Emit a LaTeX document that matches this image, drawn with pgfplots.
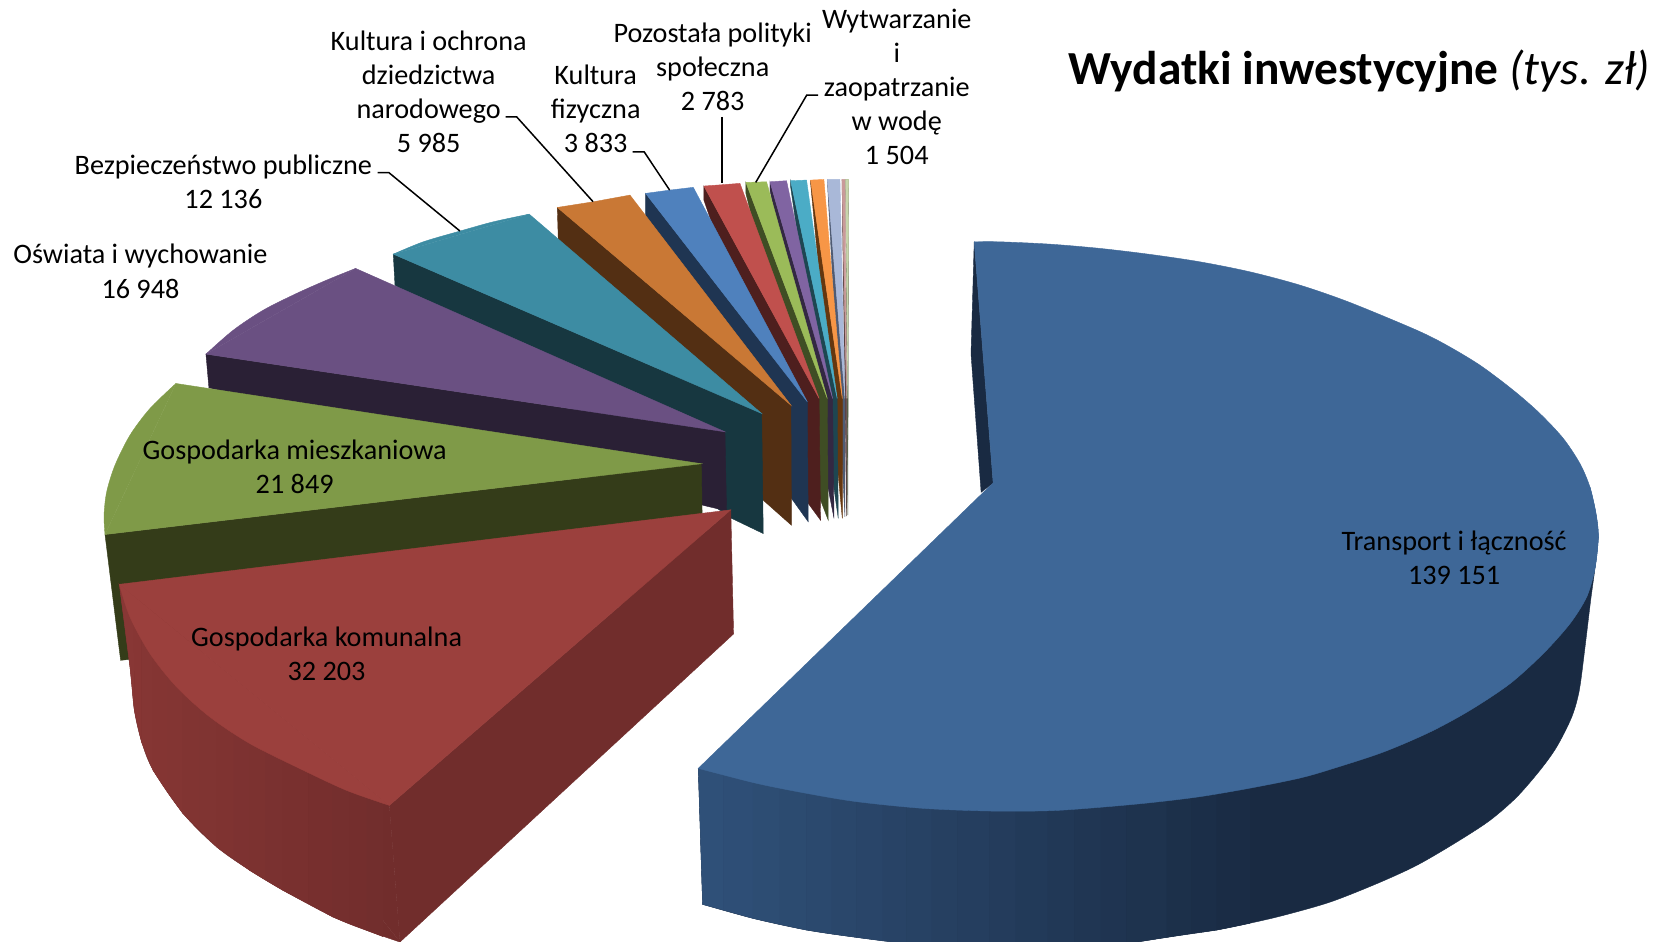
\documentclass[border=0pt]{standalone}
\usepackage{fontspec}
\setmainfont{Carlito}
\usepackage{pgfplots}
\pgfplotsset{compat=1.18}
\newcommand\poly[2]{\addplot[fill=#1,draw=#1,line width=0.4pt] coordinates {#2} -- cycle;}
\newcommand\spoly[2]{\addplot[smooth,fill=#1,draw=#1,line width=0.4pt] coordinates {#2};}
\newcommand\lead[1]{\addplot[black,line width=1.5pt,sharp plot] coordinates {#1};}
\newcommand\lbl[3]{\node[anchor=base,inner sep=0pt,font=\fontsize{28.2}{32}\selectfont] at (axis cs:#1,#2) {#3};}
\definecolor{bT}{RGB}{62,103,151}
\definecolor{bD}{RGB}{25,42,66}
\definecolor{bL}{RGB}{47,80,120}
\definecolor{rT}{RGB}{155,64,61}
\definecolor{rD}{RGB}{113,45,44}
\definecolor{rL}{RGB}{136,55,53}
\definecolor{gT}{RGB}{127,154,72}
\definecolor{gD}{RGB}{52,60,25}
\definecolor{pT}{RGB}{106,80,130}
\definecolor{pD}{RGB}{42,32,53}
\definecolor{tT}{RGB}{61,140,163}
\definecolor{tD}{RGB}{23,55,64}
\definecolor{oT}{RGB}{201,120,53}
\definecolor{oD}{RGB}{83,47,19}
\definecolor{b2T}{RGB}{79,129,189}
\definecolor{b2D}{RGB}{31,53,82}
\definecolor{r2T}{RGB}{192,80,77}
\definecolor{r2D}{RGB}{78,31,30}
\definecolor{g2T}{RGB}{155,187,89}
\definecolor{g2D}{RGB}{63,77,36}
\definecolor{p2T}{RGB}{128,100,162}
\definecolor{p2D}{RGB}{51,40,66}
\definecolor{t2T}{RGB}{75,172,198}
\definecolor{t2D}{RGB}{30,70,81}
\definecolor{o2T}{RGB}{247,150,70}
\definecolor{o2D}{RGB}{101,55,15}
\definecolor{l2T}{RGB}{169,184,216}
\definecolor{l2D}{RGB}{79,91,115}
\definecolor{kT}{RGB}{201,154,153}
\definecolor{kD}{RGB}{90,65,65}
\definecolor{mT}{RGB}{200,213,172}
\definecolor{mD}{RGB}{85,95,70}
\begin{document}
\begin{tikzpicture}
\begin{axis}[anchor=south west,at={(0,0)},width=1668pt,height=943pt,scale only axis,xmin=0,xmax=1568,ymin=0,ymax=886,y dir=reverse,hide axis,clip=true]
% small slices, far right first
\poly{mD}{(794.9,168.6)(797,484)(797.7,168.6)}
\poly{mT}{(794.9,168.6)(797.7,168.6)(797,374.4)}
\poly{kD}{(791.5,168.6)(795.8,485)(795.8,374.4)}
\poly{kT}{(791.5,168.6)(794.3,168.6)(795.8,374.4)}
\poly{l2D}{(777.7,168.6)(794.3,485.6)(794.3,374.4)}
\poly{l2T}{(777.7,168.6)(789.6,168.6)(794.3,374.4)}
\poly{o2D}{(762,169.2)(762,172.3)(791.8,487)(791.8,374.4)}
\poly{o2T}{(762,169.2)(774.5,168.6)(791.8,374.4)}
\poly{t2D}{(743.2,169.8)(743.2,175.5)(788,487)(787,374.4)}
\poly{t2T}{(743.2,169.8)(758.2,169.2)(787,374.4)}
\poly{p2D}{(723.8,170.8)(723.8,178.6)(784,487)(782.7,374.4)}
\poly{p2T}{(723.8,170.8)(739.4,169.8)(782.7,374.4)}
\poly{g2D}{(701.2,171.4)(701.2,181.7)(771.4,470)(778.6,488.8)(777.7,374.4)}
\poly{g2T}{(701.2,171.4)(720.6,170.8)(777.7,374.4)}
\poly{r2D}{(661.7,174.8)(661.7,188)(759.8,473)(771.4,488.8)(770,374.4)}
\poly{r2T}{(661.7,174.8)(678.3,173.6)(695.6,172.3)(770,374.4)}
\poly{b2D}{(606.9,181.7)(607,205)(744.1,468.4)(759.8,490.3)(758.9,377.5)}
\poly{b2T}{(606.9,181.7)(629.8,178.6)(651.7,176)(758.9,377.5)}
\poly{oD}{(523.9,194.9)(524.8,225)(717.5,470)(744,493.5)(743.5,380.7)}
\poly{oT}{(523.9,194.9)(557.7,189.6)(592.2,183.3)(743.5,380.7)}
\poly{tD}{(369.7,238.8)(371.3,267.9)(687.7,487)(717.5,501.3)(716,388.5)}
\spoly{tT}{(369.7,238.8)(397.9,227.2)(432.4,217.1)(463.7,208.4)(497.5,201.2)}
\poly{tT}{(369.7,238.8)(497.5,201.2)(716,388.5)}
\poly{pD}{(193.6,332.7)(196.4,364.4)(683,480)(681.5,405.7)}
\spoly{pT}{(193.6,332.7)(219.3,310.2)(247.5,291.4)(278.8,275.7)(307,263.2)(334.3,252.2)}
\poly{pT}{(193.6,332.7)(334.3,252.2)(681.5,405.7)}
\poly{gD}{(98.7,502.2)(113.4,620.4)(661,560)(659.4,435.7)}
\spoly{gT}{(165.4,360.3)(141,383.8)(122.2,408.9)(108.1,437.1)(100.3,462.1)(97.8,484.1)(98.7,502.2)}
\poly{gT}{(165.4,360.3)(98.7,502.2)(659.4,435.7)}
% red slice
\poly{rD}{(366,756.7)(376,885.1)(689.6,595.6)(687,479)}
\spoly{rD}{(112.2,549)(122.2,626.7)(126.3,667.4)(133.2,697.1)(144.1,723.8)(172.3,764.5)(203.7,795.8)(235,817.8)(266.3,836.6)(313.3,861.6)(344.6,874.2)(376,885.1)}
\poly{rD}{(112.2,549)(376,885.1)(366,756.7)}
\poly{rL}{(112.2,549)(126,556)(126.3,667.4)(122.2,626.7)}
\poly{rL!94!rD}{(126,556)(133,572)(133,697)(126.3,667.4)}
\poly{rL!88!rD}{(133,572)(144,599)(144,724)(133,697)}
\poly{rL!82!rD}{(144,599)(158,620)(158,745)(144,724)}
\poly{rL!77!rD}{(158,620)(172,639.5)(172,764.5)(158,745)}
\poly{rL!71!rD}{(172,639.5)(188,655)(188,780)(172,764.5)}
\poly{rL!65!rD}{(188,655)(204,671)(204,796)(188,780)}
\poly{rL!59!rD}{(204,671)(220,682)(220,807)(204,796)}
\poly{rL!53!rD}{(220,682)(235,693)(235,818)(220,807)}
\poly{rL!47!rD}{(235,693)(250,702)(250,827)(235,818)}
\poly{rL!41!rD}{(250,702)(266,711.6)(266,836.6)(250,827)}
\poly{rL!33!rD}{(266,711.6)(290,724)(290,849)(266,836.6)}
\poly{rL!24!rD}{(290,724)(313,733.6)(313,861.6)(290,849)}
\poly{rL!18!rD}{(313,733.6)(329,740)(329,868)(313,861.6)}
\poly{rL!12!rD}{(329,740)(345,746)(345,874)(329,868)}
\poly{rL!6!rD}{(345,746)(360,752)(360,880)(345,874)}
\spoly{rT}{(112.2,549)(122.2,579.7)(141,614.1)(166.1,645.5)(197.4,673.7)(235,698.7)(282,722.2)(325.8,742.6)(366,756.7)}
\poly{rT}{(687,479)(112.2,549)(366,756.7)}
% blue slice
\poly{bD}{(915.8,227.2)(912.8,332.5)(922.3,462.5)(933.6,453.8)}
\spoly{bD}{(1502.5,504.5)(1499.3,534.3)(1495.3,564)(1490,607.9)(1484.6,648.6)(1477.5,673.7)(1463.3,701.9)(1447.6,723.8)(1425.7,749)(1400.6,770.8)(1369.3,791.2)(1331.7,813.1)(1294.1,830.3)(1250.2,847.6)(1206.3,860.1)(1175,867.4)(1143.6,873.8)(1096.6,880.7)(1059,886.4)(1010,890.5)(955,892)(900,890.5)(852.2,886.4)(805.3,880.7)(758.3,873.8)(708.1,862.9)(660.5,849.7)}
\poly{bD}{(656.4,721.9)(1502.5,504.5)(660.5,849.7)}
\poly{bL}{(656.4,721.9)(680,722)(680,855)(660.5,849.7)}
\poly{bL!96!bD}{(680,722)(708,727.9)(708,862.9)(680,855)}
\poly{bL!91!bD}{(708,727.9)(733,733.5)(733,868.5)(708,862.9)}
\poly{bL!86!bD}{(733,733.5)(758,738.8)(758,873.8)(733,868.5)}
\poly{bL!81!bD}{(758,738.8)(782,742.5)(782,877.5)(758,873.8)}
\poly{bL!76!bD}{(782,742.5)(805,745.7)(805,880.7)(782,877.5)}
\poly{bL!72!bD}{(805,745.7)(830,749)(830,884)(805,880.7)}
\poly{bL!67!bD}{(830,749)(852,751.4)(852,886.4)(830,884)}
\poly{bL!63!bD}{(852,751.4)(876,753.5)(876,888.5)(852,886.4)}
\poly{bL!58!bD}{(876,753.5)(900,755.5)(900,890.5)(876,888.5)}
\poly{bL!53!bD}{(900,755.5)(930,756.5)(930,891.5)(900,890.5)}
\poly{bL!48!bD}{(930,756.5)(955,757)(955,892)(930,891.5)}
\poly{bL!43!bD}{(955,757)(985,756.5)(985,891.5)(955,892)}
\poly{bL!37!bD}{(985,756.5)(1010,755.5)(1010,890.5)(985,891.5)}
\poly{bL!32!bD}{(1010,755.5)(1035,754)(1035,889)(1010,890.5)}
\poly{bL!27!bD}{(1035,754)(1059,751.4)(1059,886.4)(1035,889)}
\poly{bL!23!bD}{(1059,751.4)(1097,745.7)(1097,880.7)(1059,886.4)}
\poly{bL!15!bD}{(1097,745.7)(1120,742)(1120,877)(1097,880.7)}
\poly{bL!11!bD}{(1120,742)(1144,738.8)(1144,873.8)(1120,877)}
\poly{bL!6!bD}{(1144,738.8)(1175,732.4)(1175,867.4)(1144,873.8)}
\spoly{bT}{(915.8,227.2)(940,227.2)(987,229.4)(1034,233.4)(1081,239)(1128,246)(1175,255.4)(1222,267.9)(1269,284.2)(1331.7,310.2)(1359.9,324.3)(1391.2,343.1)(1422.5,366.6)(1447.6,388.5)(1469.6,412)(1485.2,435.5)(1494.6,457.5)(1500.3,482.5)(1502.5,504.5)(1499.3,534.3)(1491.5,560.9)}
\spoly{bT}{(1494.6,457.5)(1500.3,482.5)(1502.5,504.5)(1499.3,534.3)(1491.5,560.9)(1475.8,586)(1450.7,614.1)(1419.5,642.3)(1381.8,667.4)(1344.2,687.8)(1300.4,706.6)(1253.4,722)(1222,731)(1175,740.5)(1128,748.5)(1081,754.2)(1034,758.5)(987,761.7)(930.6,762)(867.9,759.5)(805.3,753.2)(758.3,745.4)(711.3,736)(656.4,721.9)}
\poly{bT}{(915.8,227.2)(1494.6,457.5)(1491.5,560.9)(656.4,721.9)(923.5,463.4)(933.6,453.8)}
% leader lines
\lead{(355,162.3)(365.7,162.3)(432.4,217.1)}
\lead{(475.4,109.7)(485.6,109.7)(557.5,189.5)}
\lead{(594.7,142.6)(605.5,142.6)(629.5,178.6)}
\lead{(678.6,109.7)(678.6,172.3)}
\lead{(769,89.3)(758.4,89.3)(710.4,171.4)}
% labels
\lbl{1367}{517}{Transport i łączność}
\lbl{1367}{549}{139 151}
\lbl{307}{607}{Gospodarka komunalna}
\lbl{307}{639}{32 203}
\lbl{277}{432}{Gospodarka mieszkaniowa}
\lbl{277}{464}{21 849}
\lbl{132}{248}{Oświata i wychowanie}
\lbl{132}{280}{16 948}
\lbl{210}{164}{Bezpieczeństwo publiczne}
\lbl{210}{196}{12 136}
\lbl{403}{47}{Kultura i ochrona}
\lbl{403}{79}{dziedzictwa}
\lbl{403}{111}{narodowego}
\lbl{403}{143}{5 985}
\lbl{560}{79}{Kultura}
\lbl{560}{111}{fizyczna}
\lbl{560}{143}{3 833}
\lbl{670}{40}{Pozostała polityki}
\lbl{670}{72}{społeczna}
\lbl{670}{104}{2 783}
\lbl{843}{27}{Wytwarzanie}
\lbl{843}{59}{i}
\lbl{843}{91}{zaopatrzanie}
\lbl{843}{123}{w wodę}
\lbl{843}{155}{1 504}
\node[anchor=base east,inner sep=0pt,font=\fontsize{47.4}{52}\selectfont] at (axis cs:1551.5,79) {\textbf{Wydatki inwestycyjne} \textit{(tys. zł)}};
\end{axis}
\pgfresetboundingbox
\path[use as bounding box] (0,1.7pt) rectangle (1668pt,943pt);
\end{tikzpicture}
\end{document}
